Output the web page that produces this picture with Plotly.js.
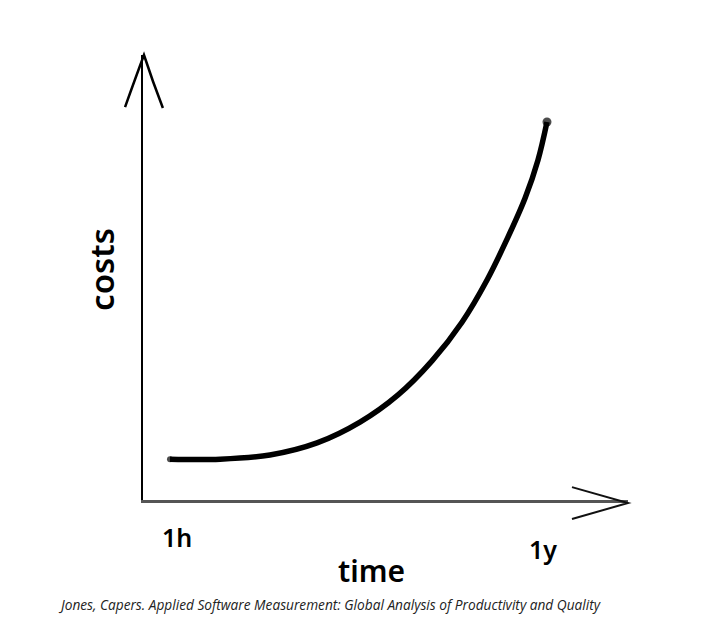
<!DOCTYPE html>
<html>
<head>
<meta charset="utf-8">
<script src="https://cdn.plot.ly/plotly-3.0.1.min.js"></script>
<style>html,body{margin:0;padding:0;background:#fff;}#chart{width:720px;height:642px;}</style>
</head>
<body>
<div id="chart"></div>
<script>
// time as fraction from 1h (0) to 1y (1); costs relative (1 = value at 1y)
const timePoints = [0.0, 0.133, 0.265, 0.390, 0.504, 0.605, 0.695, 0.775, 0.841, 0.894, 0.942, 0.976, 1.0];
const costValues = [0.108, 0.108, 0.119, 0.151, 0.206, 0.278, 0.368, 0.471, 0.582, 0.690, 0.799, 0.899, 1.0];
const tickValues = [0, 1];
const tickLabels = ['1h', '1y'];
const xTitle = 'time';
const yTitle = 'costs';
const caption = 'Jones, Capers. Applied Software Measurement: Global Analysis of Productivity and Quality';

const sketchFont = 'Noto Sans, sans-serif';
const n = timePoints.length;

const trace = {
  x: timePoints,
  y: costValues,
  mode: 'lines+markers',
  line: {color: '#000', width: 5.5, shape: 'spline', smoothing: 1},
  marker: {color: '#000', line: {width: 0},
           size: timePoints.map((_, i) => (i === n - 1 ? 9 : (i === 0 ? 6 : 0)))},
  hoverinfo: 'skip'
};

const tickAnnotations = tickValues.map((v, i) => ({
  x: v, xref: 'x', y: 0, yref: 'y',
  text: tickLabels[i], showarrow: false,
  xanchor: 'center', yanchor: 'top',
  yshift: i === 0 ? -18 : -30, xshift: i === 0 ? 7 : -4,
  font: {family: sketchFont, size: 25, color: '#000', weight: 600}
}));

const layout = {
  width: 720, height: 642,
  margin: {l: 143, r: 92, t: 55, b: 142},
  paper_bgcolor: '#fff', plot_bgcolor: '#fff',
  showlegend: false,
  xaxis: {range: [-0.0716, 1.2149], showgrid: false, zeroline: false, showticklabels: false,
          ticks: '', showline: true, linecolor: '#555', linewidth: 3, fixedrange: true},
  yaxis: {range: [0, 1.1772], showgrid: false, zeroline: false, showticklabels: false,
          ticks: '', showline: true, linecolor: '#000', linewidth: 2, fixedrange: true},
  shapes: [
    {type: 'path', xref: 'paper', yref: 'paper',
     path: 'M -0.037 0.883 Q -0.015 0.95 0.002 1.0 Q 0.02 0.94 0.041 0.881',
     line: {color: '#000', width: 2.5}},
    {type: 'path', xref: 'paper', yref: 'paper',
     path: 'M 0.8845 0.029 L 1.0 -0.0067 L 0.8845 -0.0427',
     line: {color: '#111', width: 2}}
  ],
  annotations: tickAnnotations.concat([
    {x: 0.5, xref: 'paper', y: 0, yref: 'paper', yshift: -70, xshift: -14,
     text: xTitle, showarrow: false, xanchor: 'center', yanchor: 'middle',
     font: {family: sketchFont, size: 30, color: '#000', weight: 600}},
    {x: 0, xref: 'paper', y: 0.517, yref: 'paper', xshift: -41,
     text: yTitle, showarrow: false, textangle: -90, xanchor: 'center', yanchor: 'middle',
     font: {family: sketchFont, size: 33, color: '#000', weight: 600}},
    {x: 0, xref: 'paper', y: 0, yref: 'paper', xshift: -87, yshift: -104,
     text: caption, showarrow: false, xanchor: 'left', yanchor: 'middle',
     font: {family: 'Open Sans, sans-serif', size: 13.7, color: '#222', style: 'italic'}}
  ])
};

Plotly.newPlot('chart', [trace], layout, {displayModeBar: false, staticPlot: true});
</script>
</body>
</html>
